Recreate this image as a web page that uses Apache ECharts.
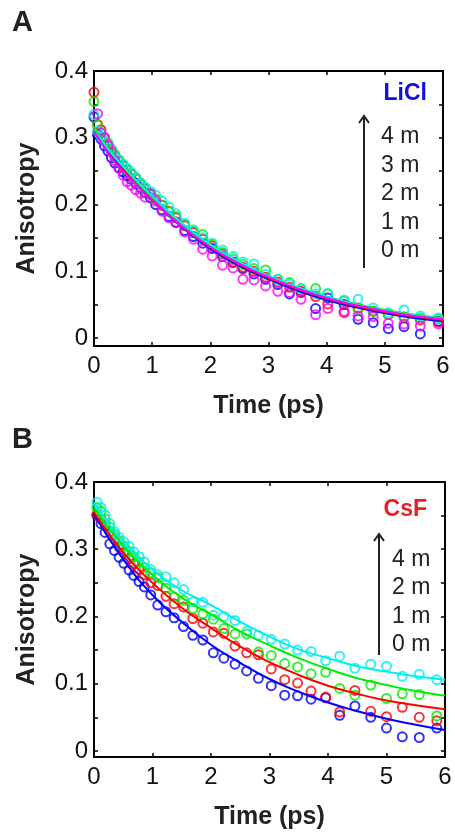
<!DOCTYPE html>
<html>
<head>
<meta charset="utf-8">
<script src="https://cdn.jsdelivr.net/npm/echarts@6/dist/echarts.min.js"></script>
<style>
html,body{margin:0;padding:0;background:#fff;}
#chart{width:455px;height:834px;}
</style>
</head>
<body>
<div id="chart"></div>
<script>
// ---------- Panel A (LiCl) ----------
const timeA = [0, 0.06, 0.12, 0.18, 0.24, 0.30, 0.36, 0.43, 0.50, 0.57, 0.64, 0.72, 0.80, 0.88, 0.97, 1.06, 1.17, 1.29, 1.41, 1.56, 1.71, 1.87, 2.03, 2.21, 2.39, 2.56, 2.75, 2.95, 3.16, 3.36, 3.56, 3.81, 4.02, 4.30, 4.54, 4.80, 5.06, 5.33, 5.61, 5.92];
const blueA = [0.331, 0.305, 0.298, 0.288, 0.280, 0.270, 0.262, 0.255, 0.249, 0.243, 0.238, 0.232, 0.225, 0.218, 0.210, 0.200, 0.192, 0.182, 0.173, 0.161, 0.152, 0.142, 0.134, 0.122, 0.113, 0.104, 0.096, 0.088, 0.080, 0.066, 0.068, 0.044, 0.060, 0.050, 0.028, 0.023, 0.014, 0.017, 0.006, 0.025];
const redA = [0.368, 0.320, 0.312, 0.300, 0.290, 0.280, 0.272, 0.265, 0.258, 0.252, 0.246, 0.240, 0.232, 0.224, 0.216, 0.208, 0.199, 0.190, 0.180, 0.168, 0.158, 0.148, 0.138, 0.126, 0.114, 0.106, 0.100, 0.091, 0.084, 0.076, 0.070, 0.062, 0.051, 0.038, 0.045, 0.040, 0.035, 0.031, 0.027, 0.024];
const greenA = [0.354, 0.319, 0.308, 0.300, 0.292, 0.283, 0.275, 0.267, 0.260, 0.252, 0.246, 0.238, 0.230, 0.223, 0.215, 0.208, 0.199, 0.189, 0.182, 0.170, 0.160, 0.155, 0.140, 0.128, 0.118, 0.110, 0.104, 0.102, 0.088, 0.083, 0.074, 0.074, 0.066, 0.055, 0.043, 0.040, 0.035, 0.032, 0.030, 0.029];
const cyanA = [0.335, 0.310, 0.302, 0.296, 0.288, 0.280, 0.272, 0.266, 0.260, 0.254, 0.248, 0.240, 0.232, 0.226, 0.220, 0.214, 0.205, 0.196, 0.186, 0.172, 0.162, 0.150, 0.142, 0.132, 0.122, 0.114, 0.111, 0.095, 0.088, 0.080, 0.073, 0.066, 0.067, 0.057, 0.058, 0.045, 0.038, 0.042, 0.033, 0.030];
const magentaA = [null, 0.336, 0.307, 0.300, 0.288, 0.279, 0.266, 0.254, 0.244, 0.234, 0.229, 0.222, 0.217, 0.211, 0.216, 0.205, 0.190, 0.180, 0.174, 0.159, 0.148, 0.133, 0.123, 0.109, 0.105, 0.088, 0.087, 0.078, 0.070, 0.068, 0.058, 0.035, 0.044, 0.040, 0.033, 0.032, 0.022, 0.021, 0.018, 0.021];

const fitT = [0, 0.25, 0.5, 0.75, 1, 1.5, 2, 2.5, 3, 3.5, 4, 4.5, 5, 5.5, 6];
const blueFitA = [0.310, 0.278, 0.252, 0.229, 0.207, 0.167, 0.134, 0.108, 0.088, 0.071, 0.057, 0.046, 0.037, 0.030, 0.025];
const redFitA = [0.314, 0.282, 0.255, 0.231, 0.209, 0.169, 0.136, 0.110, 0.090, 0.073, 0.059, 0.048, 0.039, 0.032, 0.027];
const greenFitA = [0.316, 0.284, 0.257, 0.233, 0.211, 0.171, 0.138, 0.113, 0.092, 0.076, 0.062, 0.051, 0.042, 0.035, 0.030];
const cyanFitA = [0.312, 0.282, 0.257, 0.234, 0.213, 0.173, 0.140, 0.114, 0.093, 0.076, 0.062, 0.050, 0.041, 0.034, 0.029];
const magentaFitA = [0.310, 0.276, 0.250, 0.228, 0.207, 0.168, 0.136, 0.111, 0.091, 0.074, 0.060, 0.049, 0.040, 0.033, 0.028];

// ---------- Panel B (CsF) ----------
const timeB = [0.05, 0.12, 0.19, 0.27, 0.35, 0.43, 0.51, 0.60, 0.68, 0.77, 0.86, 0.97, 1.09, 1.23, 1.37, 1.53, 1.69, 1.86, 2.04, 2.22, 2.41, 2.61, 2.81, 3.03, 3.26, 3.48, 3.71, 3.96, 4.20, 4.46, 4.73, 5.00, 5.27, 5.56, 5.86];
const blueB = [0.350, 0.338, 0.325, 0.308, 0.298, 0.288, 0.279, 0.269, 0.261, 0.252, 0.244, 0.232, 0.217, 0.207, 0.198, 0.185, 0.172, 0.165, 0.146, 0.138, 0.129, 0.119, 0.108, 0.097, 0.083, 0.082, 0.077, 0.079, 0.053, 0.067, 0.050, 0.034, 0.021, 0.020, 0.034];
const redB = [0.352, 0.345, 0.336, 0.326, 0.315, 0.303, 0.295, 0.286, 0.278, 0.270, 0.262, 0.250, 0.246, 0.230, 0.219, 0.214, 0.197, 0.190, 0.177, 0.175, 0.156, 0.146, 0.143, 0.122, 0.106, 0.101, 0.089, 0.080, 0.058, 0.090, 0.059, 0.051, 0.065, 0.050, 0.045];
const greenB = [0.362, 0.356, 0.345, 0.333, 0.322, 0.313, 0.305, 0.297, 0.289, 0.281, 0.273, 0.265, 0.258, 0.242, 0.229, 0.224, 0.212, 0.204, 0.196, 0.182, 0.174, 0.174, 0.147, 0.142, 0.130, 0.125, 0.115, 0.117, 0.093, 0.083, 0.098, 0.078, 0.085, 0.084, 0.052];
const cyanB = [0.370, 0.362, 0.351, 0.338, 0.326, 0.318, 0.311, 0.304, 0.296, 0.289, 0.281, 0.270, 0.262, 0.259, 0.250, 0.240, 0.222, 0.221, 0.202, 0.200, 0.194, 0.178, 0.172, 0.166, 0.159, 0.150, 0.148, 0.134, 0.141, 0.123, 0.129, 0.126, 0.111, 0.114, 0.106];

const fitTB = [0, 0.5, 1, 1.5, 2, 2.5, 3, 3.5, 4, 4.5, 5, 5.5, 6];
const blueFitB = [0.352, 0.285, 0.232, 0.192, 0.158, 0.131, 0.107, 0.088, 0.072, 0.059, 0.048, 0.039, 0.031];
const redFitB = [0.355, 0.295, 0.250, 0.213, 0.183, 0.155, 0.132, 0.113, 0.097, 0.085, 0.075, 0.068, 0.062];
const greenFitB = [0.362, 0.305, 0.262, 0.228, 0.203, 0.178, 0.157, 0.138, 0.122, 0.108, 0.098, 0.089, 0.082];
const cyanFitB = [0.370, 0.311, 0.270, 0.239, 0.217, 0.192, 0.170, 0.151, 0.138, 0.126, 0.118, 0.111, 0.106];

const yLabels = [0, 0.1, 0.2, 0.3, 0.4];
const yTicks = [0, 0.05, 0.1, 0.15, 0.2, 0.25, 0.3, 0.35, 0.4];
const legendA = ['4 m', '3 m', '2 m', '1 m', '0 m'];
const legendB = ['4 m', '2 m', '1 m', '0 m'];

const C = {blue: '#0000ff', red: '#ff0000', green: '#00ee00', cyan: '#00eeee', magenta: '#ff00ff'};
const FONT = 'Liberation Sans, Arial, Helvetica, sans-serif';

function zip(ts, vs) {
  const out = [];
  for (let i = 0; i < ts.length; i++) if (vs[i] != null) out.push([ts[i], vs[i]]);
  return out;
}

function xAx(gi, pos, labels) {
  return {
    type: 'value', gridIndex: gi, position: pos, min: 0, max: 6, interval: 1,
    axisLine: {show: true, onZero: false, lineStyle: {color: '#000', width: 2}},
    axisTick: {show: true, inside: true, length: 4, lineStyle: {color: '#000', width: 1.5}},
    axisLabel: {show: labels, margin: 8, color: '#111', fontSize: 24, fontFamily: FONT},
    splitLine: {show: false},
    name: labels ? 'Time (ps)' : '', nameLocation: 'middle', nameGap: 48,
    nameTextStyle: {fontSize: 25, fontWeight: 'bold', color: '#222', fontFamily: FONT}
  };
}
function yAx(gi, pos, labels, ymin) {
  return {
    type: 'value', gridIndex: gi, position: pos, min: ymin, max: 0.4,
    axisLine: {show: true, onZero: false, lineStyle: {color: '#000', width: 2}},
    axisTick: {show: true, inside: true, length: 4, customValues: yTicks, lineStyle: {color: '#000', width: 1.5}},
    axisLabel: {show: labels, margin: 6, customValues: yLabels, color: '#111', fontSize: 24, fontFamily: FONT,
      formatter: v => (Math.abs(v) < 1e-9 ? '0' : v.toFixed(1))},
    splitLine: {show: false},
    name: labels ? 'Anisotropy' : '', nameLocation: 'middle', nameGap: 54,
    nameTextStyle: {fontSize: 25, fontWeight: 'bold', color: '#222', fontFamily: FONT}
  };
}

function scat(data, color, xi, yi) {
  return {type: 'scatter', xAxisIndex: xi, yAxisIndex: yi, data: data, symbol: 'circle', symbolSize: 9,
    itemStyle: {color: 'rgba(0,0,0,0)', borderColor: color, borderWidth: 2}, z: 3, silent: true};
}
function fit(data, color, xi, yi) {
  return {type: 'line', xAxisIndex: xi, yAxisIndex: yi, data: data, smooth: true, showSymbol: false,
    lineStyle: {color: color, width: 2}, z: 4, silent: true};
}

const series = [];
const setsA = [[blueA, blueFitA, C.blue], [redA, redFitA, C.red], [greenA, greenFitA, C.green], [cyanA, cyanFitA, C.cyan], [magentaA, magentaFitA, C.magenta]];
setsA.forEach(s => { series.push(scat(zip(timeA, s[0]), s[2], 0, 0)); });
setsA.forEach(s => { series.push(fit(zip(fitT, s[1]), s[2], 0, 0)); });
const setsB = [[blueB, blueFitB, C.blue], [redB, redFitB, C.red], [greenB, greenFitB, C.green], [cyanB, cyanFitB, C.cyan]];
setsB.forEach(s => { series.push(scat(zip(timeB, s[0]), s[2], 2, 2)); });
setsB.forEach(s => { series.push(fit(zip(fitTB, s[1]), s[2], 2, 2)); });

const graphic = [
  {type: 'text', left: 12, top: 8, style: {text: 'A', font: 'bold 29px ' + FONT, fill: '#222'}},
  {type: 'text', left: 12, top: 425, style: {text: 'B', font: 'bold 29px ' + FONT, fill: '#222'}},
  {type: 'text', right: 28, top: 82, style: {text: 'LiCl', font: 'bold 23px ' + FONT, fill: '#1010e6'}},
  {type: 'text', right: 28, top: 498, style: {text: 'CsF', font: 'bold 23px ' + FONT, fill: '#e82020'}},
  {type: 'line', shape: {x1: 364, y1: 268, x2: 364, y2: 116}, style: {stroke: '#222', lineWidth: 2}},
  {type: 'polyline', shape: {points: [[359, 123], [364, 116], [369, 123]]}, style: {stroke: '#222', lineWidth: 2, fill: null}},
  {type: 'line', shape: {x1: 379, y1: 655, x2: 379, y2: 534}, style: {stroke: '#222', lineWidth: 2}},
  {type: 'polyline', shape: {points: [[374, 541], [379, 534], [384, 541]]}, style: {stroke: '#222', lineWidth: 2, fill: null}}
];
const yA = [137, 166, 194, 223, 251];
legendA.forEach((t, i) => graphic.push({type: 'text', x: 381, y: yA[i], style: {text: t, font: '23px ' + FONT, fill: '#222', verticalAlign: 'middle'}}));
const yB = [560, 588, 617, 645];
legendB.forEach((t, i) => graphic.push({type: 'text', x: 392, y: yB[i], style: {text: t, font: '23px ' + FONT, fill: '#222', verticalAlign: 'middle'}}));

const chart = echarts.init(document.getElementById('chart'), null, {renderer: 'canvas'});
chart.setOption({
  backgroundColor: '#fff',
  animation: false,
  grid: [
    {left: 94, top: 71, width: 349, height: 275},
    {left: 94, top: 482, width: 351, height: 275}
  ],
  xAxis: [xAx(0, 'bottom', true), xAx(0, 'top', false), xAx(1, 'bottom', true), xAx(1, 'top', false)],
  yAxis: [yAx(0, 'left', true, -0.012), yAx(0, 'right', false, -0.012), yAx(1, 'left', true, -0.009), yAx(1, 'right', false, -0.009)],
  series: series,
  graphic: graphic
});
</script>
</body>
</html>
